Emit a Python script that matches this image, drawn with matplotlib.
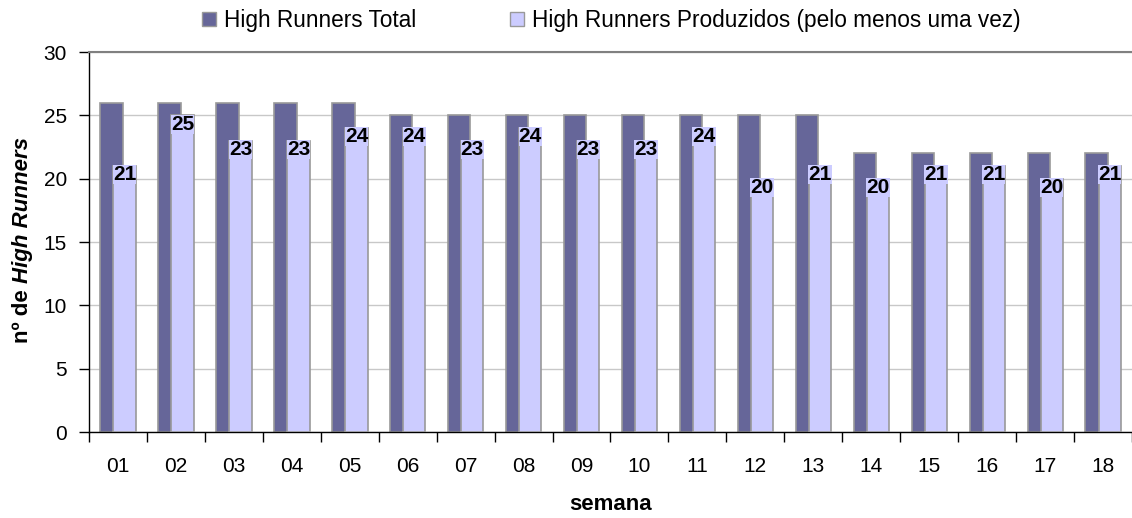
import matplotlib
matplotlib.use("Agg")
import matplotlib.pyplot as plt
from matplotlib.patches import Patch
import numpy as np

# --- dados ---
semanas = ["01", "02", "03", "04", "05", "06", "07", "08", "09",
           "10", "11", "12", "13", "14", "15", "16", "17", "18"]
hr_total = [26, 26, 26, 26, 26, 25, 25, 25, 25, 25, 25, 25, 25, 22, 22, 22, 22, 22]
hr_produzidos = [21, 25, 23, 23, 24, 24, 23, 24, 23, 23, 24, 20, 21, 20, 21, 21, 20, 21]

cor_total = "#666699"
cor_prod = "#CCCCFF"
cor_borda = "#999999"

plt.rcParams["font.family"] = ["Liberation Sans", "DejaVu Sans"]

fig = plt.figure(figsize=(11.32, 5.18), dpi=100)
ax = fig.add_axes([0.0786, 0.166, 0.9214, 0.7336])

x = np.arange(len(semanas))
largura = 0.385
ax.bar(x + 0.39, hr_total, width=largura, color=cor_total, edgecolor=cor_borda,
       linewidth=1.2, zorder=2)
ax.bar(x + 0.615, hr_produzidos, width=largura, color=cor_prod, edgecolor=cor_borda,
       linewidth=1.2, zorder=3)

# rótulos dos produzidos
for xi, v in zip(x, hr_produzidos):
    ax.text(xi + 0.615, v - 0.7, str(v), ha="center", va="center",
            fontsize=15, fontweight="bold", zorder=4,
            bbox=dict(facecolor=cor_prod, edgecolor="none", pad=0.0))

ax.set_xlim(0, len(semanas))
ax.set_ylim(0, 30)
ax.set_yticks(range(0, 31, 5))
ax.yaxis.grid(True, color="#C8C8C8", linewidth=1.0, zorder=0)
ax.set_axisbelow(True)

ax.set_xticks(x + 0.5)
ax.set_xticklabels(semanas, fontsize=15)
ax.set_xticks(np.arange(len(semanas) + 1), minor=True)
ax.tick_params(axis="x", which="major", length=0, pad=18)
ax.tick_params(axis="x", which="minor", length=7, width=1, direction="out")
ax.tick_params(axis="y", labelsize=15, length=7, width=1, direction="out", pad=9)

ax.spines["right"].set_visible(False)
ax.spines["top"].set_color("#808080")
ax.spines["top"].set_linewidth(1.5)
ax.spines["left"].set_linewidth(1.0)
ax.spines["bottom"].set_linewidth(1.0)

ax.set_xlabel("semana", fontsize=16, fontweight="bold", labelpad=13)

# rótulo do eixo y: parte normal + parte itálica
fig.canvas.draw()
r = fig.canvas.get_renderer()
t1 = fig.text(0.0195, 0.0, "nº de ", rotation=90, fontsize=16, fontweight="bold",
              ha="center", va="bottom")
t2 = fig.text(0.0195, 0.0, "High Runners", rotation=90, fontsize=16,
              fontweight="bold", fontstyle="italic", ha="center", va="bottom")
h1 = t1.get_window_extent(r).height / fig.bbox.height
h2 = t2.get_window_extent(r).height / fig.bbox.height
centro = 1 - 240 / 518
inicio = centro - (h1 + h2) / 2
t1.set_y(inicio)
t2.set_y(inicio + h1)

handles = [Patch(facecolor=cor_total, edgecolor=cor_borda),
           Patch(facecolor=cor_prod, edgecolor=cor_borda)]
fig.legend(handles, ["High Runners Total",
                     "High Runners Produzidos (pelo menos uma vez)"],
           loc="upper center", bbox_to_anchor=(0.54, 1.022), ncol=2, frameon=False,
           fontsize=16.3, handlelength=0.63, handleheight=0.63, columnspacing=4.1,
           handletextpad=0.36)

fig.savefig("out.png", dpi=100)
